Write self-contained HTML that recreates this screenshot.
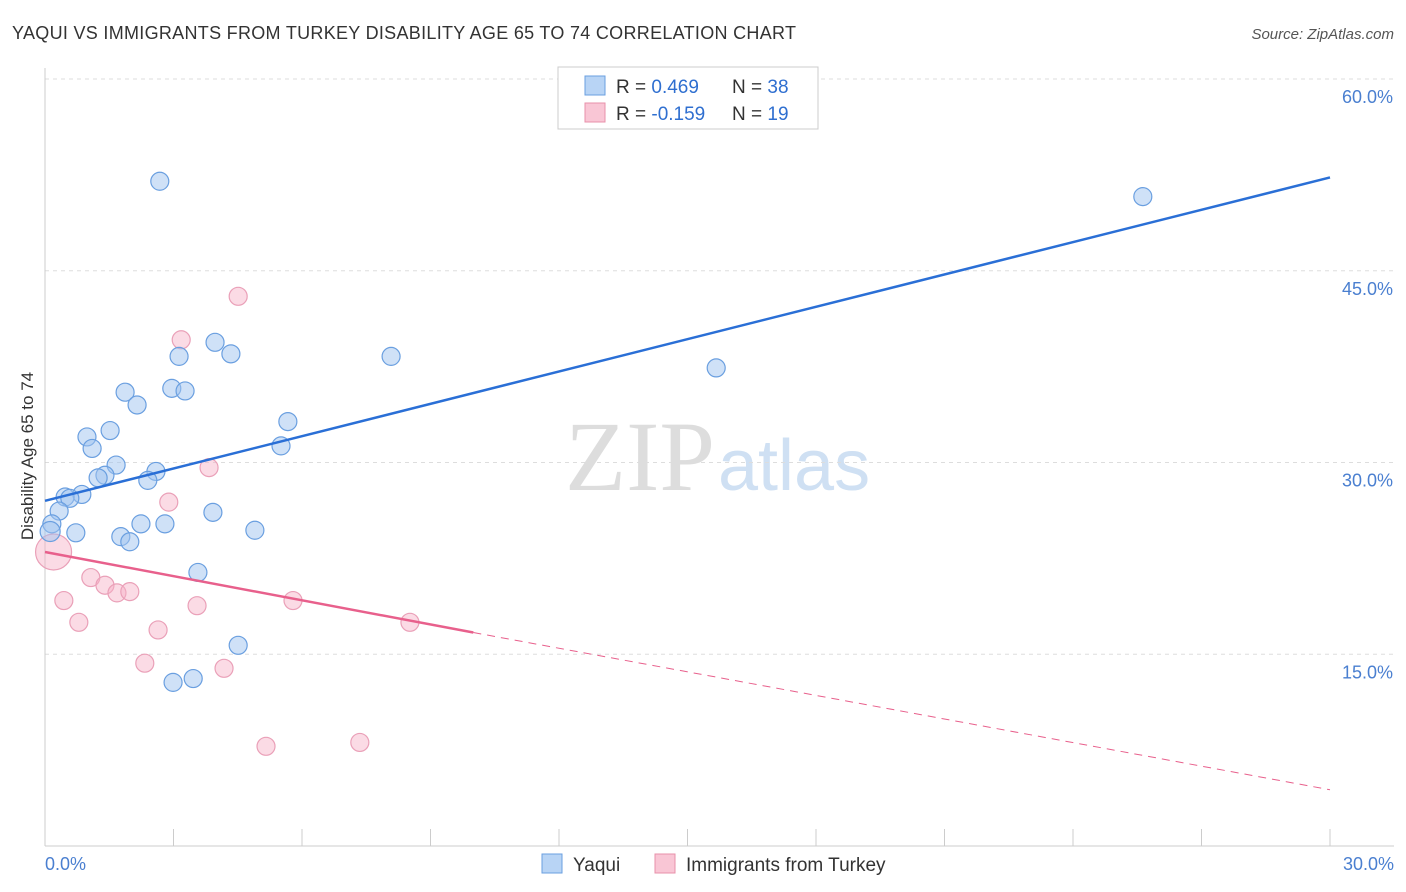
<!DOCTYPE html>
<html><head><meta charset="utf-8"><style>
body{margin:0;background:#fff;font-family:"Liberation Sans",sans-serif}
</style></head><body>
<svg id="chart" width="1406" height="892" style="display:block">
<text x="12" y="39" font-size="18" fill="#333" textLength="784">YAQUI VS IMMIGRANTS FROM TURKEY DISABILITY AGE 65 TO 74 CORRELATION CHART</text>
<text x="1394" y="39" font-size="15" fill="#555" font-style="italic" text-anchor="end">Source: ZipAtlas.com</text>
<text x="33" y="456" font-size="17" fill="#333" text-anchor="middle" transform="rotate(-90 33 456)">Disability Age 65 to 74</text>
<text x="715" y="490" font-size="100" fill="#ddd" text-anchor="end" font-family="Liberation Serif">ZIP</text>
<text x="718" y="490" font-size="72" fill="#cfe0f3">atlas</text>
<g id="grid"></g><g id="marks"></g>
<g>
<rect x="558" y="67" width="260" height="62" fill="#fff" stroke="#ccc"/>
<rect x="585" y="76" width="20" height="19" fill="#b8d4f5" stroke="#6a9fe0"/>
<rect x="585" y="103" width="20" height="19" fill="#f9c6d5" stroke="#e890aa"/>
<text x="616" y="93" font-size="19" fill="#333">R = <tspan fill="#2f6fd0">0.469</tspan><tspan x="732">N = </tspan><tspan fill="#2f6fd0">38</tspan></text>
<text x="616" y="120" font-size="19" fill="#333">R = <tspan fill="#2f6fd0">-0.159</tspan><tspan x="732">N = </tspan><tspan fill="#2f6fd0">19</tspan></text>
</g>
<g>
<rect x="542" y="854" width="20" height="19" fill="#b8d4f5" stroke="#6a9fe0"/>
<text x="573" y="871" font-size="19" fill="#333">Yaqui</text>
<rect x="655" y="854" width="20" height="19" fill="#f9c6d5" stroke="#e890aa"/>
<text x="686" y="871" font-size="19" fill="#333">Immigrants from Turkey</text>
</g>
</svg>
<script>
const yTicks=[15,30,45,60];
const yTickLabels=["15.0%","30.0%","45.0%","60.0%"];
const xTicks=[0,3,6,9,12,15,18,21,24,27,30];
const blueX=[2.68,25.63,3.97,4.34,3.13,8.08,15.67,2.96,3.27,1.87,2.15,5.67,1.52,0.98,1.10,5.51,1.66,2.59,1.40,1.24,2.40,0.86,0.47,0.58,0.33,3.92,0.16,2.80,2.24,4.90,0.72,1.77,1.98,3.57,4.51,2.99,3.46,0.12];
const blueY=[52.0,50.8,39.4,38.5,38.3,38.3,37.4,35.8,35.6,35.5,34.5,33.2,32.5,32.0,31.1,31.3,29.8,29.3,29.0,28.8,28.6,27.5,27.3,27.2,26.2,26.1,25.2,25.2,25.2,24.7,24.5,24.2,23.8,21.4,15.7,12.8,13.1,24.6];
const pinkX=[4.51,3.18,3.83,2.89,0.2,1.07,1.40,1.68,1.98,0.44,3.55,5.79,8.52,0.79,2.64,2.33,4.18,5.16,7.35];
const pinkY=[43.0,39.6,29.6,26.9,23.0,21.0,20.4,19.8,19.9,19.2,18.8,19.2,17.5,17.5,16.9,14.3,13.9,7.8,8.1];
const blueLine=[[0,27.0],[30,52.3]];
const pinkLine=[[0,23.0],[10,16.7]];
const pinkDash=[[10,16.7],[30,4.4]];
const sx=v=>45+v/30*1285, sy=v=>846-v/60*767;
const NS="http://www.w3.org/2000/svg";
function mk(t,a,p){const e=document.createElementNS(NS,t);for(const k in a)e.setAttribute(k,a[k]);p.appendChild(e);return e;}
const grid=document.getElementById('grid'),marks=document.getElementById('marks');
yTicks.forEach((t,i)=>{
 const l=mk('line',{x1:45,x2:1394,y1:sy(t),y2:sy(t),stroke:'#ddd','stroke-dasharray':'4,4'},grid);
 
 
 const tx=mk('text',{x:1393,y:sy(t)+24,'font-size':18,fill:'#4a7fd0','text-anchor':'end'},grid);
 tx.textContent=yTickLabels[i];
 
 
});
const ax=mk('line',{x1:45,x2:1394,y1:846,y2:846,stroke:'#ccc'},grid);


const ay=mk('line',{x1:45,x2:45,y1:68,y2:846,stroke:'#ccc'},grid);


xTicks.forEach(t=>{
 const l=mk('line',{x1:sx(t),x2:sx(t),y1:829,y2:846,stroke:'#ccc'},grid);
 
 
});
[[0,'0.0%','start',45],[30,'30.0%','end',1394]].forEach(d=>{
 const tx=mk('text',{x:d[3],y:870,'font-size':18,fill:'#4a7fd0','text-anchor':d[2]},grid);
 tx.textContent=d[1];
 
 
});
pinkX.forEach((x,i)=>{
 const c=mk('circle',{cx:sx(x),cy:sy(pinkY[i]),r:i==4?18:9,fill:'rgba(246,176,198,0.45)',stroke:'#eaa0b8','stroke-width':1.2},marks);
 
 
});
blueX.forEach((x,i)=>{
 const c=mk('circle',{cx:sx(x),cy:sy(blueY[i]),r:i==37?10:9,fill:'rgba(160,196,240,0.5)',stroke:'#6a9fe0','stroke-width':1.2},marks);
 
 
});
const bl=mk('line',{x1:sx(blueLine[0][0]),y1:sy(blueLine[0][1]),x2:sx(blueLine[1][0]),y2:sy(blueLine[1][1]),stroke:'#2a6fd6','stroke-width':2.5},marks);


const pl=mk('line',{x1:sx(pinkLine[0][0]),y1:sy(pinkLine[0][1]),x2:sx(pinkLine[1][0]),y2:sy(pinkLine[1][1]),stroke:'#e8608c','stroke-width':2.5},marks);


const pd=mk('line',{x1:sx(pinkDash[0][0]),y1:sy(pinkDash[0][1]),x2:sx(pinkDash[1][0]),y2:sy(pinkDash[1][1]),stroke:'#e8608c','stroke-width':1,'stroke-dasharray':'8,6'},marks);


</script>
</body></html>
